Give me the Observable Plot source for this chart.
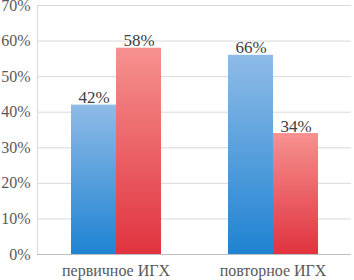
<!DOCTYPE html>
<html>
<head>
<meta charset="utf-8">
<script src="https://cdn.jsdelivr.net/npm/d3@7"></script>
<script src="https://cdn.jsdelivr.net/npm/@observablehq/plot@0.6"></script>
<style>
  html, body { margin: 0; padding: 0; background: #fff; }
  svg text, svg tspan, svg g { font-family: "Liberation Serif", serif !important; }
</style>
</head>
<body>
<div id="chart"></div>
<script>
const categories = ["первичное ИГХ", "повторное ИГХ"];
const series = ["blue", "red"];
const groupOf = ["первичное ИГХ", "первичное ИГХ", "повторное ИГХ", "повторное ИГХ"];
const seriesOf = ["blue", "red", "blue", "red"];
const values = [42, 58, 56, 34];
const labels = ["42%", "58%", "66%", "34%"];
const yTicks = [0, 10, 20, 30, 40, 50, 60, 70];

const data = values.map((v, i) => ({group: groupOf[i], s: seriesOf[i], v, label: labels[i]}));

const FONT = "Liberation Serif";

const chart = Plot.plot({
  width: 354,
  height: 280,
  marginLeft: 37,
  marginRight: 3,
  marginTop: 5,
  marginBottom: 26,
  style: {fontSize: "16px", color: "#595959", background: "#fff"},
  fx: {domain: categories, padding: 0, label: null},
  x: {domain: series, paddingInner: 0, paddingOuter: 0.744, axis: null},
  y: {domain: [0, 70], label: null},
  marks: [
    Plot.gridY(yTicks, {stroke: "#d9d9d9", strokeOpacity: 1}),
    Plot.axisY(yTicks, {tickSize: 0, tickPadding: 7, tickFormat: d => d + "%", fontSize: 16, fill: "#595959", label: null}),
    Plot.axisFx({anchor: "bottom", tickSize: 0, tickPadding: 10, fontSize: 16, fill: "#595959", label: null}),
    Plot.frame({anchor: "left", stroke: "#d9d9d9", facetAnchor: "left"}),
    Plot.barY(data, {fx: "group", x: "s", y: "v", fill: d => d.s === "blue" ? "url(#gradBlue)" : "url(#gradRed)", inset: 0}),
    Plot.ruleY([0], {stroke: "#bfbfbf"}),
    Plot.text(data, {fx: "group", x: "s", y: "v", text: "label", lineAnchor: "bottom", dy: -2, fontSize: 17, fill: "#404040"})
  ]
});

chart.setAttribute("font-family", FONT);
chart.style.setProperty("font-family", FONT, "important");
chart.querySelectorAll("g, text, tspan").forEach(el => {
  el.setAttribute("font-family", FONT);
  el.style.setProperty("font-family", FONT, "important");
});

const ns = "http://www.w3.org/2000/svg";
const defs = document.createElementNS(ns, "defs");
defs.innerHTML = `
  <linearGradient id="gradBlue" x1="0" y1="0" x2="0" y2="1">
    <stop offset="0" stop-color="#8fbbe7"/>
    <stop offset="1" stop-color="#1f83d2"/>
  </linearGradient>
  <linearGradient id="gradRed" x1="0" y1="0" x2="0" y2="1">
    <stop offset="0" stop-color="#f6918f"/>
    <stop offset="1" stop-color="#e0333f"/>
  </linearGradient>`;
chart.insertBefore(defs, chart.firstChild);
document.getElementById("chart").appendChild(chart);
</script>
</body>
</html>
